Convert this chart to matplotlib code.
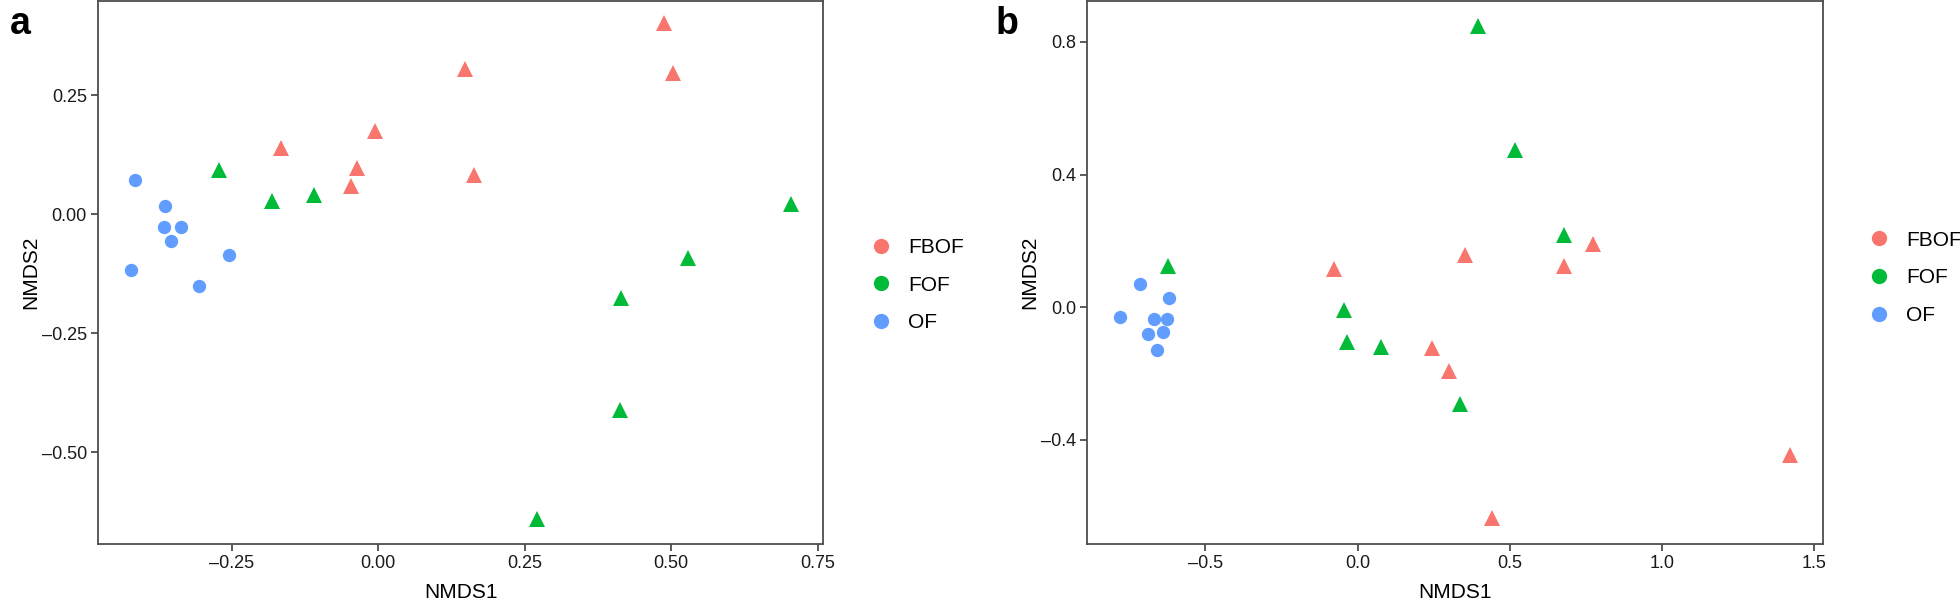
import matplotlib

matplotlib.use("Agg")
import matplotlib.pyplot as plt
from matplotlib.lines import Line2D

plt.rcParams["font.family"] = ["Liberation Sans", "DejaVu Sans"]

GROUPS = ["FBOF", "FOF", "OF"]
COLORS = {"FBOF": "#F8766D", "FOF": "#00BA38", "OF": "#619CFF"}
MARKERS = {"FBOF": "^", "FOF": "^", "OF": "o"}

# panel a
a_fbof_x = [-0.166, -0.006, -0.036, -0.047, 0.487, 0.149, 0.503, 0.163]
a_fbof_y = [0.138, 0.174, 0.097, 0.059, 0.401, 0.305, 0.297, 0.082]
a_fof_x = [-0.271, -0.181, -0.109, 0.704, 0.529, 0.414, 0.412, 0.271]
a_fof_y = [0.092, 0.027, 0.041, 0.022, -0.092, -0.177, -0.412, -0.640]
a_of_x = [-0.415, -0.363, -0.365, -0.336, -0.354, -0.255, -0.421, -0.306]
a_of_y = [0.071, 0.017, -0.027, -0.027, -0.057, -0.086, -0.118, -0.151]

# panel b
b_fbof_x = [0.353, -0.077, 0.245, 0.299, 0.442, 0.772, 0.677, 1.419]
b_fbof_y = [0.158, 0.114, -0.124, -0.192, -0.636, 0.192, 0.123, -0.445]
b_fof_x = [0.397, -0.623, -0.046, -0.036, 0.077, 0.336, 0.517, 0.677]
b_fof_y = [0.849, 0.125, -0.008, -0.104, -0.119, -0.292, 0.475, 0.218]
b_of_x = [-0.716, -0.618, -0.779, -0.669, -0.625, -0.687, -0.638, -0.660]
b_of_y = [0.070, 0.028, -0.028, -0.036, -0.036, -0.080, -0.075, -0.129]

a_xticks = [-0.25, 0.00, 0.25, 0.50, 0.75]
a_yticks = [-0.50, -0.25, 0.00, 0.25]
b_xticks = [-0.5, 0.0, 0.5, 1.0, 1.5]
b_yticks = [-0.4, 0.0, 0.4, 0.8]

SPINE = "#4d4d4d"


def panel(ax, data, xlim, ylim, xticks, yticks, fmt, letter, letter_x,
          legend_xy, ylabelpad):
    for g in GROUPS:
        x, y = data[g]
        ms = 12.0 if MARKERS[g] == "^" else 9.6
        ax.plot(x, y, ls="none", marker=MARKERS[g], ms=ms, color=COLORS[g],
                markeredgewidth=0)
    ax.set_xlim(*xlim)
    ax.set_ylim(*ylim)
    ax.set_xticks(xticks)
    ax.set_yticks(yticks)
    ax.set_xticklabels([fmt.format(v).replace("-", "\u2013") for v in xticks])
    ax.set_yticklabels([fmt.format(v).replace("-", "\u2013") for v in yticks])
    for s in ax.spines.values():
        s.set_color(SPINE)
        s.set_linewidth(1.3)
    ax.tick_params(direction="out", length=5, width=1.3, color=SPINE,
                   labelsize=13, labelcolor="#1a1a1a", pad=3)
    ax.set_xlabel("NMDS1", fontsize=15, labelpad=8)
    ax.set_ylabel("NMDS2", fontsize=15, labelpad=ylabelpad)
    handles = [Line2D([], [], ls="none", marker="o", ms=11, color=COLORS[g],
                      markeredgewidth=0, label=g) for g in GROUPS]
    ax.legend(handles=handles, loc="center left", bbox_to_anchor=legend_xy,
              bbox_transform=ax.figure.transFigure, frameon=False, fontsize=15,
              handlelength=1.0, handletextpad=0.8, labelspacing=0.9,
              borderpad=0)
    ax.figure.text(letter_x, 0.99, letter, fontsize=27, fontweight="bold",
                   va="top", ha="left")


fig = plt.figure(figsize=(19.6, 6.04), dpi=100)
ax_a = fig.add_axes([0.050, 0.0993, 0.3699, 0.8987])
ax_b = fig.add_axes([0.5547, 0.0993, 0.3755, 0.8987])

panel(ax_a,
      {"FBOF": (a_fbof_x, a_fbof_y), "FOF": (a_fof_x, a_fof_y), "OF": (a_of_x, a_of_y)},
      (-0.478, 0.759), (-0.693, 0.447), a_xticks, a_yticks, "{:.2f}", "a", 0.005,
      (0.439, 0.528), 1)
panel(ax_b,
      {"FBOF": (b_fbof_x, b_fbof_y), "FOF": (b_fof_x, b_fof_y), "OF": (b_of_x, b_of_y)},
      (-0.888, 1.529), (-0.714, 0.923), b_xticks, b_yticks, "{:.1f}", "b", 0.508,
      (0.948, 0.540), 1)

fig.savefig("out.png", dpi=100)
